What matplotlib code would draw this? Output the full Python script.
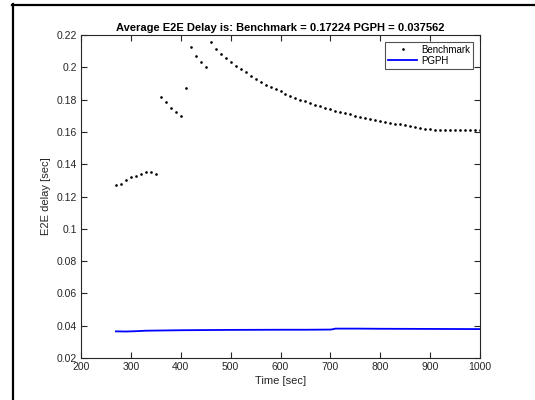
import matplotlib
matplotlib.use('Agg')
import matplotlib.pyplot as plt
from matplotlib.lines import Line2D

plt.rcParams['font.family'] = ['Liberation Sans', 'DejaVu Sans']

# ─── DATA ────────────────────────────────────────────────────────────────────
bench_t = [270, 280, 290, 300, 310, 320, 330, 340, 350,
           360, 370, 380, 390, 400,
           410,
           420, 430, 440, 450,
           460, 470, 480, 490, 500, 510, 520, 530, 540, 550,
           560, 570, 580, 590, 600, 610, 620, 630, 640, 650,
           660, 670, 680, 690, 700, 710, 720, 730, 740, 750,
           760, 770, 780, 790, 800, 810, 820, 830, 840, 850,
           860, 870, 880, 890, 900, 910, 920, 930, 940, 950,
           960, 970, 980, 990, 1000]
bench_d = [0.127, 0.128, 0.130, 0.132, 0.133, 0.134, 0.135, 0.135, 0.134,
           0.1815, 0.1785, 0.175, 0.1725, 0.170,
           0.187,
           0.2125, 0.207, 0.203, 0.200,
           0.2155, 0.2115, 0.2085, 0.2055, 0.2030, 0.2010, 0.1990, 0.1968, 0.1945, 0.1926,
           0.1908, 0.1893, 0.1880, 0.1865, 0.1851, 0.1837, 0.1824, 0.1812, 0.1800, 0.1789,
           0.1778, 0.1768, 0.1760, 0.1750, 0.1741, 0.1732, 0.1724, 0.1716, 0.1708, 0.1700,
           0.1692, 0.1684, 0.1678, 0.1672, 0.1666, 0.1661, 0.1656, 0.1651, 0.1646, 0.1641,
           0.1636, 0.1631, 0.1626, 0.1621, 0.1617, 0.1614, 0.1613, 0.1612, 0.1612, 0.1612,
           0.1612, 0.1612, 0.1612, 0.1612, 0.1612]

pgph_t = [270, 290, 310, 330, 400, 500, 600, 650, 700, 705, 710, 750, 800, 900, 1000]
pgph_d = [0.0365, 0.0364, 0.0366, 0.0369, 0.0372, 0.0374, 0.0375, 0.0375, 0.0376,
          0.0378, 0.0382, 0.0382, 0.0381, 0.0380, 0.0379]

avg_bench = 0.17224
avg_pgph = 0.037562

# ─── PLOT ────────────────────────────────────────────────────────────────────
fig = plt.figure(figsize=(5.35, 4.0), dpi=100)
ax = fig.add_axes([81 / 535, 1 - 358 / 400, (480 - 81) / 535, (358 - 35) / 400])

ax.plot(bench_t, bench_d, linestyle='none', marker='.', markersize=1.8,
        color='black', label='Benchmark')
ax.plot(pgph_t, pgph_d, color='#0000ff', linewidth=1.3, label='PGPH')

ax.set_xlim(200, 1000)
ax.set_ylim(0.02, 0.22)
ax.set_xticks(range(200, 1001, 100))
ax.set_yticks([0.02, 0.04, 0.06, 0.08, 0.1, 0.12, 0.14, 0.16, 0.18, 0.2, 0.22])
ax.set_yticklabels(['0.02', '0.04', '0.06', '0.08', '0.1', '0.12', '0.14',
                    '0.16', '0.18', '0.2', '0.22'])

dark = '#262626'
ax.tick_params(direction='in', length=4, width=0.8, top=True, right=True,
               labelsize=7.5, colors=dark, pad=3)
for s in ax.spines.values():
    s.set_color(dark)
    s.set_linewidth(0.8)

ax.set_xlabel('Time [sec]', fontsize=8, color=dark, labelpad=3)
ax.set_ylabel('E2E delay [sec]', fontsize=8, color=dark, labelpad=4)
ax.set_title(f'Average E2E Delay is: Benchmark = {avg_bench} PGPH = {avg_pgph}',
             fontsize=8, fontweight='bold', pad=3)

leg = ax.legend(loc='upper right', fontsize=7, frameon=True, fancybox=False,
                borderpad=0.3, handlelength=3.0, handletextpad=0.4,
                labelspacing=0.1, borderaxespad=0.7)
leg.get_frame().set_edgecolor(dark)
leg.get_frame().set_linewidth(0.8)

# outer frame lines (left and top) of the original screenshot
fig.add_artist(Line2D([12.5 / 535, 12.5 / 535], [0, 1 - 4 / 400],
                      transform=fig.transFigure, color='black', linewidth=1.6))
fig.add_artist(Line2D([12 / 535, 1], [1 - 4.5 / 400, 1 - 4.5 / 400],
                      transform=fig.transFigure, color='black', linewidth=1.6))

fig.savefig('out.png', dpi=100)
